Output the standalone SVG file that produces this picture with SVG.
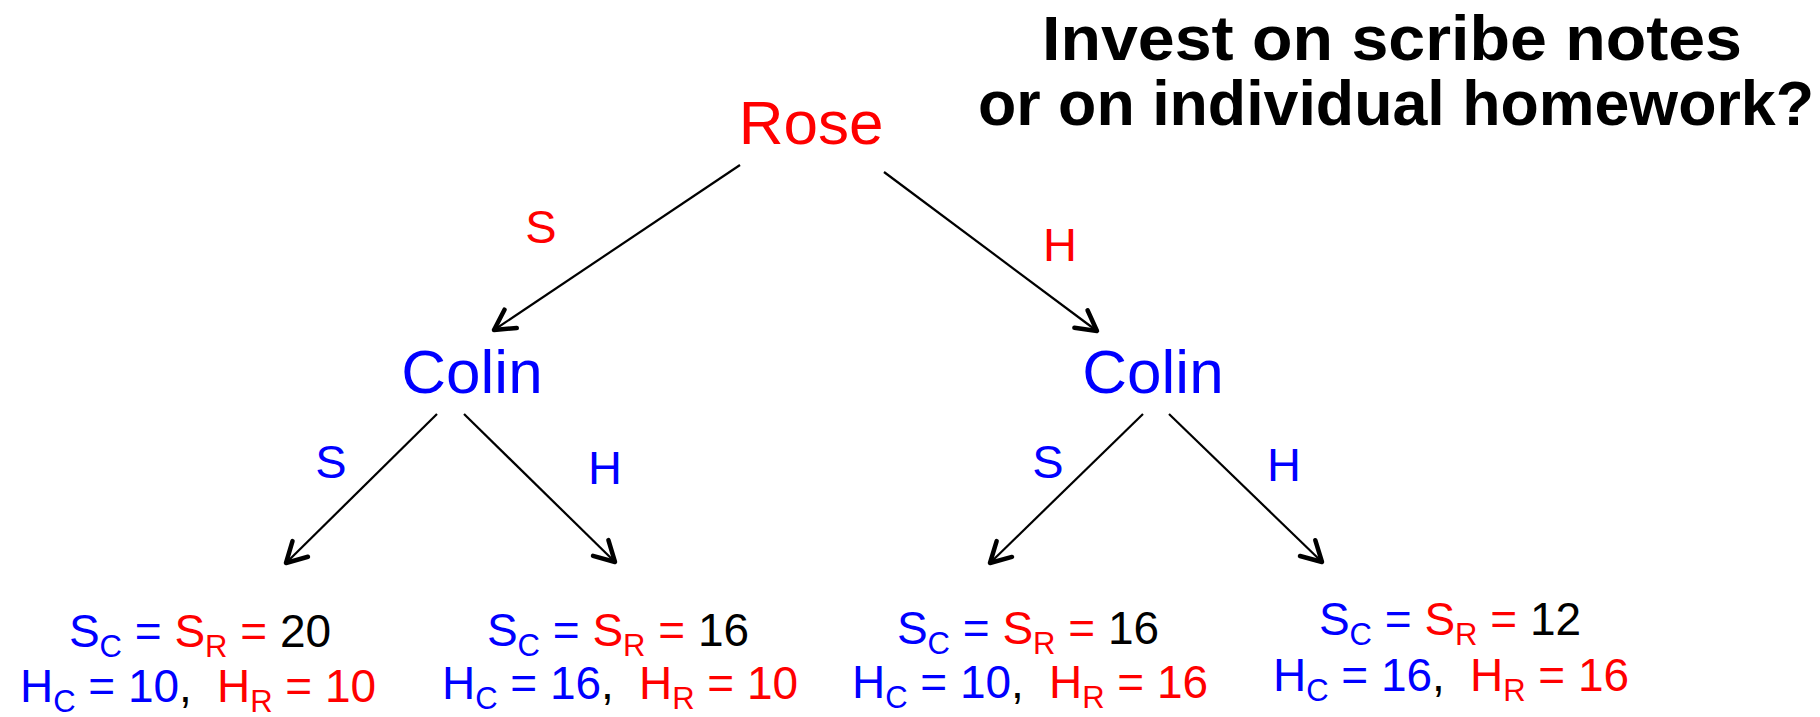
<svg xmlns="http://www.w3.org/2000/svg" width="1820" height="717" viewBox="0 0 1820 717">
<defs>
<marker id="arr" markerUnits="userSpaceOnUse" markerWidth="40" markerHeight="40" viewBox="-30 -20 40 40" refX="0" refY="0" orient="auto">
<path d="M-20,-11 L0,0 L-20,11" fill="none" stroke="#000" stroke-width="4.5" stroke-linecap="round" stroke-linejoin="round"/>
</marker>
<style>
text{font-family:"Liberation Sans",Arial,sans-serif}
.title{font-size:63px;font-weight:bold;fill:#000;text-anchor:middle}
.node{font-size:62px;text-anchor:middle}
.lbl{font-size:47px;text-anchor:middle}
.leaf{font-size:46px;text-anchor:middle}
.sub{font-size:31px}
.r{fill:#ff0000}
.b{fill:#0000ff}
.k{fill:#000}
.edge{stroke:#000;stroke-width:2.2;fill:none;marker-end:url(#arr)}
</style>
</defs>
<rect width="1820" height="717" fill="#fff"/>
<g id="title">
<text class="title" x="1392" y="60" textLength="700" lengthAdjust="spacingAndGlyphs">Invest on scribe notes</text>
<text class="title" x="1396" y="125" textLength="836" lengthAdjust="spacingAndGlyphs">or on individual homework?</text>
</g>
<g id="rose"><text class="node r" x="811" y="144">Rose</text></g>
<g id="colin-left"><text class="node b" x="472" y="393">Colin</text></g>
<g id="colin-right"><text class="node b" x="1153" y="393">Colin</text></g>
<g id="connectors">
<line class="edge" x1="740" y1="165" x2="494" y2="330"/>
<line class="edge" x1="884" y1="172" x2="1097" y2="331"/>
<line class="edge" x1="437" y1="414" x2="286" y2="563"/>
<line class="edge" x1="464" y1="414" x2="615" y2="562"/>
<line class="edge" x1="1143" y1="414" x2="990" y2="563"/>
<line class="edge" x1="1169" y1="414" x2="1322" y2="562"/>
<text class="lbl r" x="541" y="243">S</text>
<text class="lbl r" x="1060" y="261">H</text>
<text class="lbl b" x="331" y="478">S</text>
<text class="lbl b" x="605" y="484">H</text>
<text class="lbl b" x="1048" y="478">S</text>
<text class="lbl b" x="1284" y="481">H</text>
</g>
<g id="leaf-SS">
<text class="leaf" x="200" y="647"><tspan class="b">S</tspan><tspan class="b sub" dy="10">C</tspan><tspan class="b" dy="-10"> = </tspan><tspan class="r">S</tspan><tspan class="r sub" dy="10">R</tspan><tspan class="r" dy="-10"> = </tspan><tspan class="k">20</tspan></text>
<text class="leaf" x="198" y="702"><tspan class="b">H</tspan><tspan class="b sub" dy="10">C</tspan><tspan class="b" dy="-10"> = 10</tspan><tspan class="k">,</tspan><tspan class="r" dx="25">H</tspan><tspan class="r sub" dy="10">R</tspan><tspan class="r" dy="-10"> = 10</tspan></text>
</g>
<g id="leaf-SH">
<text class="leaf" x="618" y="646"><tspan class="b">S</tspan><tspan class="b sub" dy="10">C</tspan><tspan class="b" dy="-10"> = </tspan><tspan class="r">S</tspan><tspan class="r sub" dy="10">R</tspan><tspan class="r" dy="-10"> = </tspan><tspan class="k">16</tspan></text>
<text class="leaf" x="620" y="699"><tspan class="b">H</tspan><tspan class="b sub" dy="10">C</tspan><tspan class="b" dy="-10"> = 16</tspan><tspan class="k">,</tspan><tspan class="r" dx="25">H</tspan><tspan class="r sub" dy="10">R</tspan><tspan class="r" dy="-10"> = 10</tspan></text>
</g>
<g id="leaf-HS">
<text class="leaf" x="1028" y="644"><tspan class="b">S</tspan><tspan class="b sub" dy="10">C</tspan><tspan class="b" dy="-10"> = </tspan><tspan class="r">S</tspan><tspan class="r sub" dy="10">R</tspan><tspan class="r" dy="-10"> = </tspan><tspan class="k">16</tspan></text>
<text class="leaf" x="1030" y="698"><tspan class="b">H</tspan><tspan class="b sub" dy="10">C</tspan><tspan class="b" dy="-10"> = 10</tspan><tspan class="k">,</tspan><tspan class="r" dx="25">H</tspan><tspan class="r sub" dy="10">R</tspan><tspan class="r" dy="-10"> = 16</tspan></text>
</g>
<g id="leaf-HH">
<text class="leaf" x="1450" y="635"><tspan class="b">S</tspan><tspan class="b sub" dy="10">C</tspan><tspan class="b" dy="-10"> = </tspan><tspan class="r">S</tspan><tspan class="r sub" dy="10">R</tspan><tspan class="r" dy="-10"> = </tspan><tspan class="k">12</tspan></text>
<text class="leaf" x="1451" y="691"><tspan class="b">H</tspan><tspan class="b sub" dy="10">C</tspan><tspan class="b" dy="-10"> = 16</tspan><tspan class="k">,</tspan><tspan class="r" dx="25">H</tspan><tspan class="r sub" dy="10">R</tspan><tspan class="r" dy="-10"> = 16</tspan></text>
</g>
</svg>
